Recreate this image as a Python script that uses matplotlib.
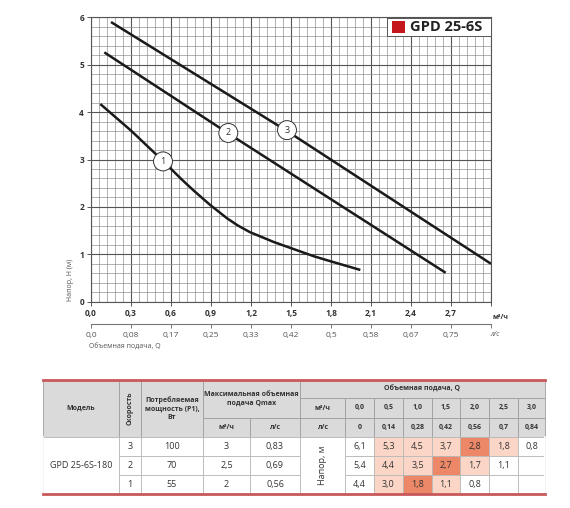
import matplotlib
matplotlib.use('Agg')
import matplotlib.pyplot as plt
from matplotlib.patches import Rectangle
import numpy as np

plt.rcParams['font.family'] = ['Open Sans', 'DejaVu Sans']

# --- curve data (Q in m3/h, H in m)
q1 = [0.07, 0.30, 0.48, 0.59, 0.68, 0.77, 0.89, 1.02, 1.10, 1.19, 1.37, 1.54, 1.67, 1.80, 2.02]
h1 = [4.17, 3.61, 3.13, 2.83, 2.58, 2.345, 2.05, 1.76, 1.61, 1.47, 1.26, 1.09, 0.96, 0.85, 0.67]
q2 = [0.10, 0.53, 1.03, 2.66]
h2 = [5.26, 4.47, 3.55, 0.61]
q3 = [0.15, 1.47, 3.00]
h3 = [5.90, 3.60, 0.80]
curve_labels = ['1', '2', '3']
label_pos = [(0.54, 2.96), (1.03, 3.56), (1.47, 3.62)]

q_ticks = [0.0, 0.3, 0.6, 0.9, 1.2, 1.5, 1.8, 2.1, 2.4, 2.7, 3.0]
q_m3h_labels = ['0,0', '0,3', '0,6', '0,9', '1,2', '1,5', '1,8', '2,1', '2,4', '2,7', '']
q_ls_labels = ['0,0', '0,08', '0,17', '0,25', '0,33', '0,42', '0,5', '0,58', '0,67', '0,75', '']
h_ticks = [0, 1, 2, 3, 4, 5, 6]

# --- table data
model = 'GPD 25-6S-180'
speeds = ['3', '2', '1']
power = ['100', '70', '55']
qmax_m3h = ['3', '2,5', '2']
qmax_ls = ['0,83', '0,69', '0,56']
flow_m3h = ['0,0', '0,5', '1,0', '1,5', '2,0', '2,5', '3,0']
flow_ls = ['0', '0,14', '0,28', '0,42', '0,56', '0,7', '0,84']
head = [['6,1', '5,3', '4,5', '3,7', '2,8', '1,8', '0,8'],
        ['5,4', '4,4', '3,5', '2,7', '1,7', '1,1', ''],
        ['4,4', '3,0', '1,8', '1,1', '0,8', '', '']]
heat = [[0, 1, 1, 1, 2, 1, 0],
        [0, 1, 1, 2, 1, 0, 0],
        [0, 1, 2, 1, 0, 0, 0]]
heat_colors = {0: 'white', 1: '#fbd6c6', 2: '#ec8767'}

W, H = 570, 508
fig = plt.figure(figsize=(W / 100, H / 100), dpi=100)

# main chart
ax = fig.add_axes([91 / W, 1 - 301.7 / H, 400 / W, 284.4 / H])
ax.set_xlim(0, 3)
ax.set_ylim(0, 6)
ax.set_xticks(np.arange(0, 3.001, 0.06), minor=True)
ax.set_yticks(np.arange(0, 6.001, 0.2), minor=True)
ax.set_xticks(q_ticks)
ax.set_xticklabels(q_m3h_labels)
ax.set_yticks(h_ticks)
ax.grid(which='minor', color='#939393', lw=0.5)
ax.grid(which='major', color='#555555', lw=0.8)
ax.set_axisbelow(True)
for s in ax.spines.values():
    s.set_color('#555555')
    s.set_linewidth(0.8)
ax.tick_params(which='major', length=3, width=0.7, color='#555555', pad=2,
               labelsize=6, labelcolor='#333333')
ax.tick_params(which='minor', length=0)
for t in ax.get_xticklabels() + ax.get_yticklabels():
    t.set_fontweight('bold')

for q, h in [(q1, h1), (q2, h2), (q3, h3)]:
    ax.plot(q, h, color='#1a1a1a', lw=1.8, solid_capstyle='butt', solid_joinstyle='round',
            zorder=3)
for lab, (x, y) in zip(curve_labels, label_pos):
    ax.text(x, y, lab, ha='center', va='center', fontsize=6.5, color='#333333', zorder=4,
            bbox=dict(boxstyle='circle,pad=0.55', fc='white', ec='#333333', lw=0.7))

ax.text(3.015, -0.33, 'м³/ч', fontsize=5, fontweight='bold', color='#333333',
        ha='left', va='center', clip_on=False)
ax.text(-0.052, 0.076, 'Напор, Н (м)', transform=ax.transAxes, rotation=90,
        fontsize=5, color='#555555', ha='center', va='center')

# second scale in l/s
ax2 = fig.add_axes([91 / W, 1 - 324 / H, 400 / W, 0.0001])
ax2.set_xlim(0, 3)
ax2.set_yticks([])
for k in ['left', 'right', 'top']:
    ax2.spines[k].set_visible(False)
ax2.spines['bottom'].set_color('#777777')
ax2.spines['bottom'].set_linewidth(0.8)
ax2.set_xticks(q_ticks)
ax2.set_xticklabels(q_ls_labels)
ax2.tick_params(axis='x', length=3, width=0.7, color='#777777', pad=3,
                labelsize=6, labelcolor='#555555')
fig.text(490 / W, 1 - 335 / H, 'л/с', fontsize=5, color='#555555', ha='left', va='center',
         style='italic')
fig.text(89 / W, 1 - 347 / H, 'Объемная подача, Q', fontsize=5, color='#555555',
         ha='left', va='center')

# overlay in pixel coordinates for legend box and table
ov = fig.add_axes([0, 0, 1, 1])
ov.set_xlim(0, W)
ov.set_ylim(H, 0)
ov.axis('off')

ov.add_patch(Rectangle((387, 18), 104, 18, fc='white', ec='#555555', lw=0.7))
ov.add_patch(Rectangle((392, 20.7), 13, 12.6, fc='#c4161c', ec='none'))
ov.text(410, 27.3, 'GPD 25-6S', fontsize=10.5, fontweight='bold', color='#222222',
        ha='left', va='center')

cx = [43, 119, 141, 203, 250, 300, 345, 374, 403, 432, 460, 489, 518, 545]
ry = [380, 398, 418, 437, 456, 475, 494]
hdr_fc, hdr_ec, dat_ec = '#dadada', '#9e9e9e', '#b8b8b8'
hdr_font = dict(fontsize=5, fontweight='bold', color='#333333', ha='center', va='center',
                linespacing=1.3)
dat_font = dict(fontsize=6.5, color='#333333', ha='center', va='center')


def cell(c0, c1, r0, r1, fc, ec, text='', font=None, rot=0):
    x0, x1, y0, y1 = cx[c0], cx[c1], ry[r0], ry[r1]
    ov.add_patch(Rectangle((x0, y0), x1 - x0, y1 - y0, fc=fc, ec=ec, lw=0.6))
    if text:
        ov.text((x0 + x1) / 2, (y0 + y1) / 2, text, rotation=rot, **font)


# header
cell(0, 1, 0, 3, hdr_fc, hdr_ec, 'Модель', hdr_font)
cell(1, 2, 0, 3, hdr_fc, hdr_ec, 'Скорость', hdr_font, rot=90)
cell(2, 3, 0, 3, hdr_fc, hdr_ec, 'Потребляемая\nмощность (P1),\nВт', hdr_font)
cell(3, 5, 0, 2, hdr_fc, hdr_ec, 'Максимальная объемная\nподача Qmax', hdr_font)
cell(3, 4, 2, 3, hdr_fc, hdr_ec, 'м³/ч', hdr_font)
cell(4, 5, 2, 3, hdr_fc, hdr_ec, 'л/с', hdr_font)
cell(5, 13, 0, 1, hdr_fc, hdr_ec, 'Объемная подача, Q', hdr_font)
cell(5, 6, 1, 2, hdr_fc, hdr_ec, 'м³/ч', hdr_font)
cell(5, 6, 2, 3, hdr_fc, hdr_ec, 'л/с', hdr_font)
for j in range(len(flow_m3h)):
    cell(6 + j, 7 + j, 1, 2, hdr_fc, hdr_ec, flow_m3h[j], hdr_font)
    cell(6 + j, 7 + j, 2, 3, hdr_fc, hdr_ec, flow_ls[j], hdr_font)

# data rows
cell(0, 1, 3, 6, 'white', dat_ec, model, dat_font)
cell(5, 6, 3, 6, 'white', dat_ec, 'Напор, м', dat_font, rot=90)
for i in range(3):
    r = 3 + i
    cell(1, 2, r, r + 1, 'white', dat_ec, speeds[i], dat_font)
    cell(2, 3, r, r + 1, 'white', dat_ec, power[i], dat_font)
    cell(3, 4, r, r + 1, 'white', dat_ec, qmax_m3h[i], dat_font)
    cell(4, 5, r, r + 1, 'white', dat_ec, qmax_ls[i], dat_font)
    for j in range(len(flow_m3h)):
        cell(6 + j, 7 + j, r, r + 1, heat_colors[heat[i][j]], dat_ec, head[i][j], dat_font)

# hide outer vertical borders, red rules top and bottom
ov.plot([cx[0], cx[0]], [ry[3], ry[6]], color='white', lw=1.2)
ov.plot([cx[-1], cx[-1]], [ry[3], ry[6]], color='white', lw=1.2)
ov.plot([cx[0], cx[-1]], [ry[0], ry[0]], color='#c9585a', lw=2)
ov.plot([cx[0], cx[-1]], [ry[-1], ry[-1]], color='#c9585a', lw=2)

fig.savefig('out.png', dpi=100)
